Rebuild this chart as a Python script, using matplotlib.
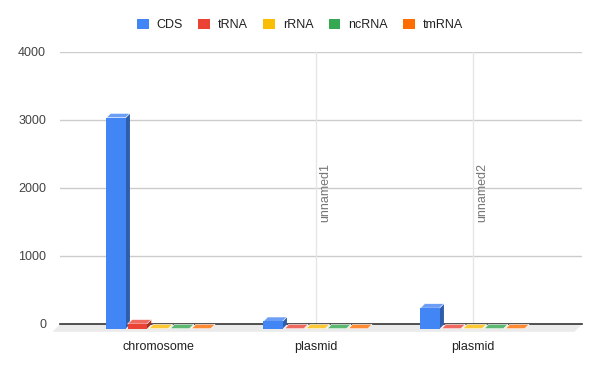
import matplotlib
matplotlib.use("Agg")
import matplotlib.pyplot as plt
import matplotlib.transforms as mtransforms
from matplotlib.patches import Patch

plt.rcParams['font.family'] = ['Liberation Sans', 'DejaVu Sans']

# data
categories = ["chromosome", "plasmid", "plasmid"]
series_names = ["CDS", "tRNA", "rRNA", "ncRNA", "tmRNA"]
cds = [3095, 107, 302]
trna = [69, 0, 0]
rrna = [0, 0, 0]
ncrna = [0, 0, 0]
tmrna = [0, 0, 0]
series_values = [cds, trna, rrna, ncrna, tmrna]
annotations = ["", "unnamed1", "unnamed2"]
yticks = [0, 1000, 2000, 3000, 4000]

front_cols = ["#4285F4", "#EA4335", "#FBBC04", "#34A853", "#FF6D01"]
top_cols = ["#6C9EF6", "#EE6A5F", "#FCC934", "#5DB872", "#FF8A34"]
side_cols = ["#2E5DAB", "#A32F25", "#B08403", "#24763A", "#B34C01"]

W, H = 600, 371
fig = plt.figure(figsize=(W / 100, H / 100), dpi=100)

# axes placed in pixel terms
px_left, px_right = 60, 582
px_top, px_zero = 51.7, 324.3
ppv = (px_zero - px_top) / 4000.0      # pixels per value unit
ymin = -120
px_bottom = px_zero - ymin * ppv
ax = fig.add_axes([px_left / W, 1 - px_bottom / H,
                   (px_right - px_left) / W, (px_bottom - px_top) / H])

cat_px = 157.0   # pixels per category
c0_px = 158.5
ax.set_xlim((px_left - c0_px) / cat_px, (px_right - c0_px) / cat_px)
ax.set_ylim(ymin, 4000)

slot = 21.3 / cat_px
bw = 19.3 / cat_px
dx = 4.4 / cat_px
dy = 4.4 / ppv

# gridlines
for t in yticks[1:]:
    ax.axhline(t, color="#cccccc", lw=1, zorder=1)

# floor
xl, xr = ax.get_xlim()
fx = 7.5 / cat_px
fy = 7.5 / ppv
ax.fill([xl, xr, xr - fx, xl - fx], [0, 0, -fy, -fy], color="#ebebeb",
        lw=0, zorder=0.5, clip_on=False)
ax.plot([xl, xr], [0, 0], color="#333333", lw=1.2, zorder=1.5, clip_on=False)

# annotation lines
for j, lab in enumerate(annotations):
    if lab:
        ax.plot([j, j], [0, 4000], color="#e6e6e6", lw=1, zorder=1)
        ax.text(j + 9.5 / cat_px, 1500, lab, rotation=90, ha="center", va="bottom",
                color="#757575", fontsize=9, zorder=1)

# 3D-ish bars
z = 2.0
for j in range(len(categories)):
    for i, vals in enumerate(series_values):
        v = vals[j]
        x0 = j + (i - 2) * slot - bw / 2
        ax.fill([x0 + bw, x0 + bw, x0 + bw + dx, x0 + bw + dx],
                [-dy, v - dy, v, 0], color=side_cols[i], lw=0, zorder=z)
        ax.fill([x0, x0 + bw, x0 + bw + dx, x0 + dx],
                [v - dy, v - dy, v, v], facecolor=top_cols[i],
                edgecolor="white", lw=0.4, zorder=z + 0.001)
        if v > 0:
            ax.bar([x0], [v], width=bw, bottom=-dy, align="edge",
                   color=front_cols[i], lw=0, zorder=z + 0.002)
        z += 0.01

for s in ax.spines.values():
    s.set_visible(False)
ax.set_yticks(yticks)
ax.set_yticklabels([str(t) for t in yticks])
ax.set_xticks(range(len(categories)))
ax.set_xticklabels(categories)
ax.tick_params(axis="y", length=0, pad=10, labelsize=9, labelcolor="#444444")
ax.tick_params(axis="x", length=0, pad=6, labelsize=9, labelcolor="#222222")
nudge = mtransforms.ScaledTranslation(0, -0.8 / 72, fig.dpi_scale_trans)
for lab in ax.get_yticklabels():
    lab.set_verticalalignment("center")
    lab.set_transform(lab.get_transform() + nudge)

handles = [Patch(facecolor=c, edgecolor="none") for c in front_cols]
fig.legend(handles, series_names, loc="center", bbox_to_anchor=(0.5, 1 - 25 / H),
           ncol=5, frameon=False, fontsize=9, handlelength=0.93, handleheight=0.93,
           handletextpad=0.66, columnspacing=1.2, labelcolor="#222222")

fig.savefig("out.png", dpi=100)
